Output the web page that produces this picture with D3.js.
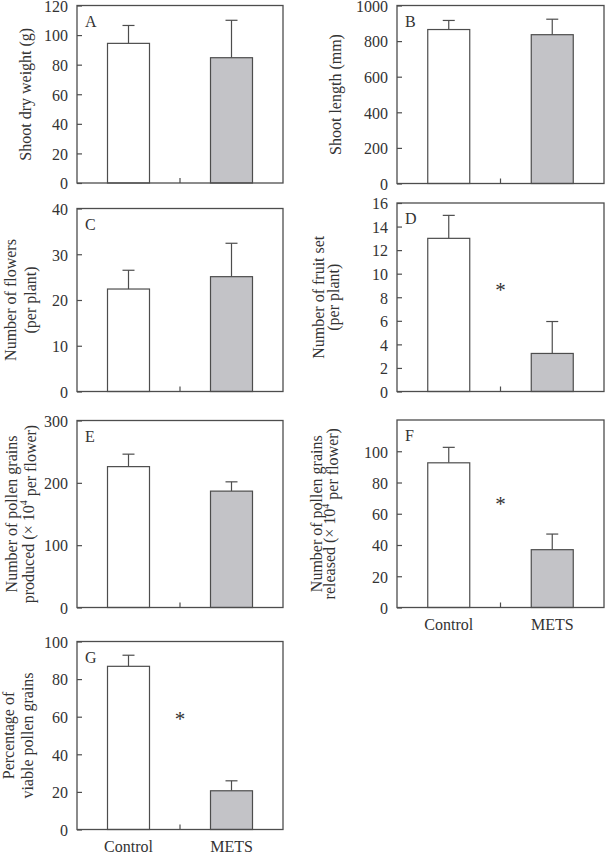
<!DOCTYPE html>
<html>
<head>
<meta charset="utf-8">
<script src="https://cdn.jsdelivr.net/npm/d3@7"></script>
<style>
  html, body { margin: 0; padding: 0; background: #fff; }
  svg { display: block; }
  text { font-family: "Liberation Serif", "Times New Roman", serif; fill: #333; }
</style>
</head>
<body>
<svg id="chart" width="605" height="853"></svg>
<script>
// ---------------- DATA ----------------
const categories = ["Control", "METS"];
const panelIds = ["A", "B", "C", "D", "E", "F", "G"];
const controlMeans = [94.4, 865, 22.4, 13.0, 226, 92.6, 86.8];
const controlErrors = [12.1, 51, 4.1, 1.95, 20, 9.9, 5.9];
const metsMeans = [84.7, 836, 25.1, 3.23, 186.7, 37, 20.6];
const metsErrors = [25.3, 87, 7.3, 2.71, 14.9, 10, 5.3];
const yDomainMax = [120, 1000, 40, 16, 300, 120, 100];
const yTickMax = [120, 1000, 40, 16, 300, 100, 100];
const yTickStep = [20, 200, 10, 2, 100, 20, 20];
const significant = [false, false, false, true, false, true, true];
const asteriskLevel = [null, null, null, 8.7, null, 67, 59.3];
const yTitles = [
  ["Shoot dry weight (g)"],
  ["Shoot length (mm)"],
  ["Number of flowers", "(per plant)"],
  ["Number of fruit set", "(per plant)"],
  ["Number of pollen grains", "produced (× 10|4| per flower)"],
  ["Number of pollen grains", "released (× 10|4| per flower)"],
  ["Percentage of", "viable pollen grains"]
];
const showXLabels = [false, false, false, false, false, true, true];

// ---------------- LAYOUT ----------------
const frames = [
  [77, 5.5, 283, 183],
  [397, 5.5, 604, 183.5],
  [77, 208.5, 283, 391.5],
  [397, 203, 604, 391.5],
  [77, 420.5, 283, 607.5],
  [397, 420, 604, 607.5],
  [77, 641.5, 283, 829.5]
];
const titleX = [
  [25],
  [335],
  [10, 30],
  [318, 333],
  [11, 27.5],
  [316, 329],
  [8, 27.5]
];

const ink = "#4d4d4d";
const barFills = ["#ffffff", "#c3c3c7"];
const svg = d3.select("#chart");

panelIds.forEach((id, i) => {
  const [l, t, r, b] = frames[i];
  const w = r - l, h = b - t;
  const g = svg.append("g").attr("transform", `translate(${l},${t})`);

  const x = d3.scalePoint().domain(categories).range([0, w]).padding(0.5);
  const y = d3.scaleLinear().domain([0, yDomainMax[i]]).range([h, 0]);
  const barW = 42;

  const rows = [
    { cat: categories[0], mean: controlMeans[i], err: controlErrors[i], fill: barFills[0] },
    { cat: categories[1], mean: metsMeans[i], err: metsErrors[i], fill: barFills[1] }
  ];

  // error bars (drawn behind bars)
  rows.forEach(d => {
    const cx = x(d.cat);
    g.append("line").attr("x1", cx).attr("x2", cx)
      .attr("y1", y(d.mean)).attr("y2", y(d.mean + d.err))
      .attr("stroke", ink).attr("stroke-width", 1.2);
    g.append("line").attr("x1", cx - 6).attr("x2", cx + 6)
      .attr("y1", y(d.mean + d.err)).attr("y2", y(d.mean + d.err))
      .attr("stroke", ink).attr("stroke-width", 1.2);
  });

  g.selectAll("rect.bar").data(rows).enter().append("rect")
    .attr("class", "bar")
    .attr("x", d => x(d.cat) - barW / 2)
    .attr("y", d => y(d.mean))
    .attr("width", barW)
    .attr("height", d => h - y(d.mean))
    .attr("fill", d => d.fill)
    .attr("stroke", ink).attr("stroke-width", 1.2);

  // frame
  g.append("rect").attr("x", 0).attr("y", 0).attr("width", w).attr("height", h)
    .attr("fill", "none").attr("stroke", ink).attr("stroke-width", 1.3);

  // y axis
  const ticks = d3.range(0, yTickMax[i] + yTickStep[i] / 2, yTickStep[i]);
  const yAxis = d3.axisLeft(y).tickValues(ticks).tickSize(-5).tickPadding(9).tickFormat(d3.format("d"));
  const ya = g.append("g").call(yAxis);
  ya.select(".domain").remove();
  ya.selectAll("line").attr("stroke", ink).attr("stroke-width", 1.2);
  ya.selectAll("text").style("font-size", "16px").style("font-family", "Liberation Serif")
    .attr("fill", "#333").attr("dy", "0.36em");

  // middle x tick
  g.append("line").attr("x1", w / 2).attr("x2", w / 2).attr("y1", h).attr("y2", h - 5)
    .attr("stroke", ink).attr("stroke-width", 1.2);

  // panel letter
  g.append("text").attr("x", 8).attr("y", 21).style("font-size", "16px").text(id);

  // asterisk
  if (significant[i]) {
    g.append("text").attr("x", w / 2).attr("y", y(asteriskLevel[i]) + 8)
      .attr("text-anchor", "middle")
      .style("font-size", "21px").text("*");
  }

  // x labels
  if (showXLabels[i]) {
    categories.forEach(c => {
      g.append("text").attr("x", x(c)).attr("y", h + 22)
        .attr("text-anchor", "middle").style("font-size", "16px").text(c);
    });
  }

  // y titles
  const cy = t + h / 2;
  yTitles[i].forEach((line, k) => {
    const tx = svg.append("text")
      .attr("transform", `translate(${titleX[i][k]},${cy}) rotate(-90)`)
      .attr("text-anchor", "middle").attr("dominant-baseline", "central")
      .style("font-size", "16px");
    const parts = line.split("|");
    if (parts.length === 1) {
      tx.text(line);
    } else {
      tx.append("tspan").text(parts[0]);
      tx.append("tspan").attr("dy", "-0.45em").style("font-size", "10px").text(parts[1]);
      tx.append("tspan").attr("dy", "0.45em").text(parts[2]);
    }
  });
});
</script>
</body>
</html>
